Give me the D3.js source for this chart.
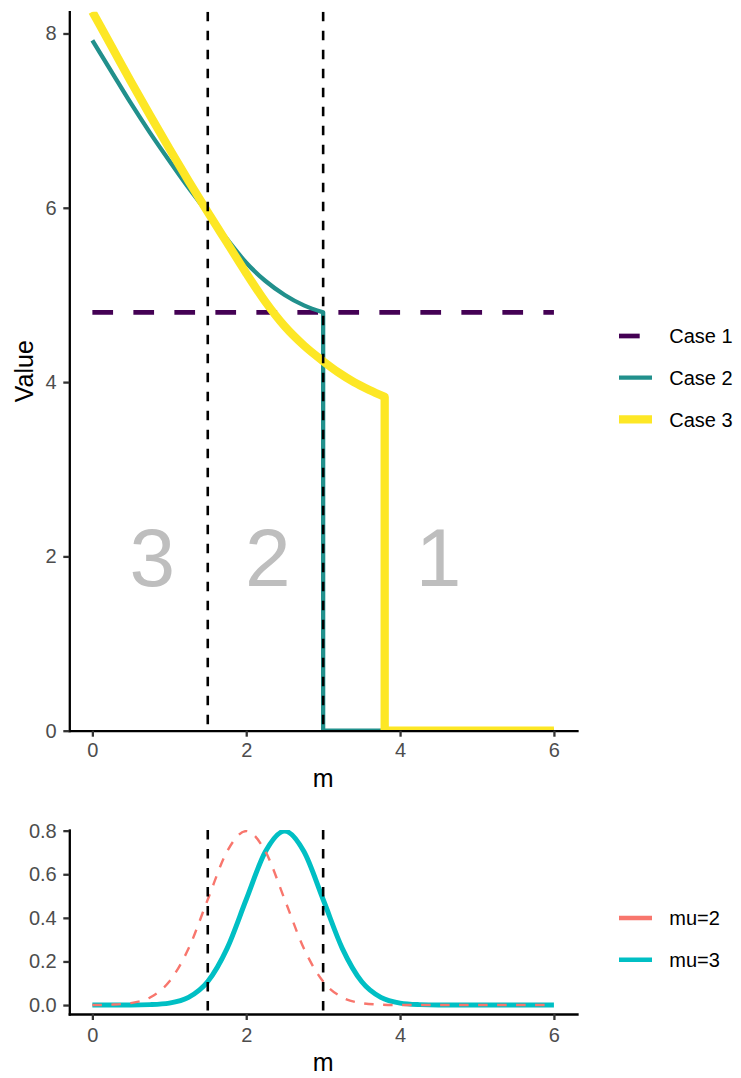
<!DOCTYPE html>
<html>
<head>
<meta charset="utf-8">
<script src="https://cdn.jsdelivr.net/npm/d3@7"></script>
<style>
body { margin: 0; background: #fff; }
text { font-family: "Liberation Sans", Arial, Helvetica, sans-serif; }
</style>
</head>
<body>
<div id="chart"></div>
<script>
// top panel: value of each case along m
var case1M = [0, 6];
var case1V = [4.8, 4.8];
var case2M = [0, 0.25, 0.5, 0.75, 1, 1.25, 1.5, 1.75, 2, 2.25, 2.5, 2.75, 3, 3, 6];
var case2V = [7.92, 7.56, 7.2, 6.86, 6.54, 6.23, 5.94, 5.64, 5.37, 5.16, 5.0, 4.88, 4.8, 0, 0];
var case3M = [0, 0.25, 0.5, 0.75, 1, 1.25, 1.5, 1.75, 2, 2.25, 2.5, 2.75, 3, 3.2, 3.4, 3.6, 3.8, 3.8, 6];
var case3V = [8.25, 7.85, 7.45, 7.06, 6.68, 6.31, 5.95, 5.6, 5.25, 4.92, 4.64, 4.42, 4.24, 4.11, 4.0, 3.91, 3.83, 0, 0];

// bottom panel: densities for the two mu values
var densM = [0, 0.25, 0.5, 0.75, 1, 1.25, 1.5, 1.75, 2, 2.25, 2.5, 2.75, 3, 3.25, 3.5, 3.75, 4, 4.25, 4.5, 4.75, 5, 5.25, 5.5, 5.75, 6];
var mu2V = [0, 0.002, 0.009, 0.035, 0.108, 0.259, 0.484, 0.704, 0.798, 0.704, 0.484, 0.259, 0.108, 0.035, 0.009, 0.002, 0, 0, 0, 0, 0, 0, 0, 0, 0];
var mu3V = [0, 0, 0, 0.002, 0.009, 0.035, 0.108, 0.259, 0.484, 0.704, 0.798, 0.704, 0.484, 0.259, 0.108, 0.035, 0.009, 0.002, 0, 0, 0, 0, 0, 0, 0];

// region borders and region labels
var vlineM = [1.5, 3];
var zoneLabels = ["3", "2", "1"];
var zoneM = [0.78, 2.28, 4.5];
var zoneV = 2;

var xTicks = [0, 2, 4, 6];
var yTopTicks = [0, 2, 4, 6, 8];
var yBotTicks = [0, 0.2, 0.4, 0.6, 0.8];
var topNames = ["Case 1", "Case 2", "Case 3"];
var botNames = ["mu=2", "mu=3"];

var topColors = ["#440154", "#21908C", "#FDE725"];
var topWidths = [4.7, 4.3, 8.3];
var botColors = ["#F8766D", "#00BFC4"];

var svg = d3.select("#chart").append("svg")
    .attr("width", 741)
    .attr("height", 1078)
    .style("background", "#fff");

var x = d3.scaleLinear().domain([-0.3, 6.3]).range([69.3, 577]);
var yTop = d3.scaleLinear().domain([0, 8.25]).range([730.7, 11.7]);
var yBot = d3.scaleLinear().domain([-0.041, 0.803]).range([1014, 830]);

var defs = svg.append("defs");
defs.append("clipPath").attr("id", "clipTop").append("rect")
    .attr("x", 69.3).attr("y", 11.7).attr("width", 577 - 69.3).attr("height", 730.7 - 11.7);
defs.append("clipPath").attr("id", "clipBot").append("rect")
    .attr("x", 69.3).attr("y", 830).attr("width", 577 - 69.3).attr("height", 1014 - 830);

// smooth part until the drop, then straight lines
function casePath(ms, vs) {
    var pts = ms.map(function (d, i) { return [x(d), yTop(vs[i])]; });
    var k = ms.findIndex(function (d, i) { return i > 0 && d === ms[i - 1]; });
    if (k < 0) return d3.line()(pts);
    var smooth = d3.line().curve(d3.curveMonotoneX)(pts.slice(0, k));
    var tail = d3.line()(pts.slice(k - 1));
    return smooth + "L" + tail.slice(1);
}

var gTop = svg.append("g").attr("clip-path", "url(#clipTop)");

gTop.selectAll("text.zone")
    .data(zoneLabels)
    .enter().append("text")
    .attr("class", "zone")
    .attr("x", function (d, i) { return x(zoneM[i]); })
    .attr("y", yTop(zoneV))
    .attr("dy", "0.36em")
    .attr("text-anchor", "middle")
    .attr("font-size", 82)
    .attr("fill", "#bebebe")
    .text(function (d) { return d; });

var topSeries = [[case1M, case1V], [case2M, case2V], [case3M, case3V]];
gTop.selectAll("path.case")
    .data(topSeries)
    .enter().append("path")
    .attr("class", "case")
    .attr("fill", "none")
    .attr("stroke", function (d, i) { return topColors[i]; })
    .attr("stroke-width", function (d, i) { return topWidths[i]; })
    .attr("stroke-linejoin", "round")
    .attr("stroke-dasharray", function (d, i) { return i === 0 ? "20.7,20.3" : null; })
    .attr("d", function (d) { return casePath(d[0], d[1]); });

function addVlines(g, y0, y1) {
    g.selectAll("line.vl")
        .data(vlineM)
        .enter().append("line")
        .attr("class", "vl")
        .attr("x1", function (d) { return x(d); })
        .attr("x2", function (d) { return x(d); })
        .attr("y1", y0)
        .attr("y2", y1)
        .attr("stroke", "#000")
        .attr("stroke-width", 2.6)
        .attr("stroke-dasharray", "9.5,9.5");
}
addVlines(gTop, yTop.range()[1], yTop.range()[0]);

// bottom panel
var gBot = svg.append("g").attr("clip-path", "url(#clipBot)");
var densLine = d3.line()
    .curve(d3.curveMonotoneX)
    .x(function (d, i) { return x(densM[i]); })
    .y(function (d) { return yBot(d); });

gBot.append("path")
    .attr("fill", "none")
    .attr("stroke", botColors[1])
    .attr("stroke-width", 5)
    .attr("d", densLine(mu3V));

gBot.append("path")
    .attr("fill", "none")
    .attr("stroke", botColors[0])
    .attr("stroke-width", 2.4)
    .attr("stroke-dasharray", "9.5,9.5")
    .attr("d", densLine(mu2V));

addVlines(gBot, yBot.range()[1], yBot.range()[0]);

// axes
function styleAxis(g) {
    g.select(".domain").attr("stroke", "#000").attr("stroke-width", 2.3).attr("stroke-linecap", "square");
    g.selectAll(".tick line").attr("stroke", "#333").attr("stroke-width", 2.3);
    g.selectAll(".tick text").attr("fill", "#4d4d4d").attr("font-size", 20)
        .style("font-family", "'Liberation Sans', Arial, sans-serif");
}

svg.append("g")
    .attr("transform", "translate(0," + yTop.range()[0] + ")")
    .call(d3.axisBottom(x).tickValues(xTicks).tickFormat(d3.format("d")).tickSize(6).tickSizeOuter(0).tickPadding(6.6))
    .call(styleAxis);
svg.append("g")
    .attr("transform", "translate(" + x.range()[0] + ",0)")
    .call(d3.axisLeft(yTop).tickValues(yTopTicks).tickFormat(d3.format("d")).tickSize(6).tickSizeOuter(0).tickPadding(6.6))
    .call(styleAxis);

svg.append("g")
    .attr("transform", "translate(0," + yBot.range()[0] + ")")
    .call(d3.axisBottom(x).tickValues(xTicks).tickFormat(d3.format("d")).tickSize(6).tickSizeOuter(0).tickPadding(7.6))
    .call(styleAxis);
svg.append("g")
    .attr("transform", "translate(" + x.range()[0] + ",0)")
    .call(d3.axisLeft(yBot).tickValues(yBotTicks).tickFormat(d3.format(".1f")).tickSize(6).tickSizeOuter(0).tickPadding(6.6))
    .call(styleAxis);

// axis titles
svg.append("text")
    .attr("x", (x.range()[0] + x.range()[1]) / 2)
    .attr("y", 787)
    .attr("text-anchor", "middle")
    .attr("font-size", 25)
    .text("m");
svg.append("text")
    .attr("x", (x.range()[0] + x.range()[1]) / 2)
    .attr("y", 1071)
    .attr("text-anchor", "middle")
    .attr("font-size", 25)
    .text("m");
svg.append("text")
    .attr("transform", "translate(33," + (yTop.range()[0] + yTop.range()[1]) / 2 + ") rotate(-90)")
    .attr("text-anchor", "middle")
    .attr("font-size", 25)
    .text("Value");

// legends
function addLegend(names, colors, widths, dashes, y0) {
    var g = svg.append("g");
    var item = g.selectAll("g")
        .data(names)
        .enter().append("g")
        .attr("transform", function (d, i) { return "translate(0," + (y0 + i * 41.7) + ")"; });
    item.append("line")
        .attr("x1", 619).attr("x2", 652)
        .attr("stroke", function (d, i) { return colors[i]; })
        .attr("stroke-width", function (d, i) { return widths[i]; })
        .attr("stroke-dasharray", function (d, i) { return dashes[i]; });
    item.append("text")
        .attr("x", 669.3)
        .attr("dy", "0.36em")
        .attr("font-size", 20)
        .attr("fill", "#000")
        .text(function (d) { return d; });
}
addLegend(topNames, topColors, topWidths, ["20.7,20.3", null, null], 336);
addLegend(botNames, botColors, [4.5, 4.5], [null, null], 918);
</script>
</body>
</html>
